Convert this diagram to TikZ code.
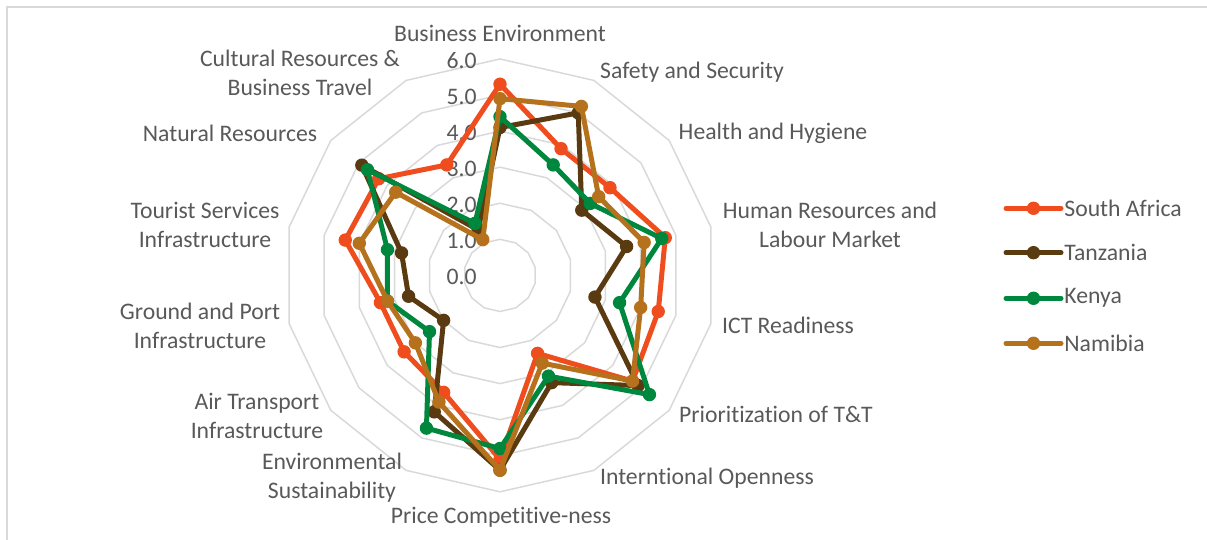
\documentclass[tikz,border=0pt]{standalone}
\usepackage{fontspec}
\setmainfont{Carlito}[Ligatures=NoCommon]
\definecolor{saorange}{RGB}{239,77,30}
\definecolor{tzbrown}{RGB}{90,58,16}
\definecolor{kegreen}{RGB}{0,135,62}
\definecolor{nagold}{RGB}{181,113,27}
\definecolor{gridgray}{RGB}{217,217,217}
\definecolor{textgray}{RGB}{89,89,89}

\begin{document}
\begin{tikzpicture}[x=0.5pt,y=0.5pt,font=\fontsize{11.85}{14.5}\selectfont,
    every node/.style={text=textgray,inner sep=0pt},
    ring/.style={draw=gridgray,line width=0.75pt},
    series/.style={line width=2.5pt,line join=round,line cap=round},
    axislabel/.style={align=center}]
    \useasboundingbox (0,0) rectangle (1207,540);
    \clip (0,0) rectangle (1207,540);
    % chart frame
    \draw[gridgray,line width=0.75pt] (7,-10) -- (7,533) -- (1220,533);
    \begin{scope}[shift={(500,264.6)}]
        % rings
        \foreach \k in {1,...,6}
            \draw[ring] (90:{\k*36.07}) \foreach \i in {1,...,13}{ -- ({90-\i*360/14}:{\k*36.07})} -- cycle;
        % scale values
        \foreach \k in {0,...,6}
            \node[anchor=east] (v\k) at (-23,{\k*36.07-1.5}) {\k.0};
        % countries
        \foreach \nm/\col/\vals in {
            sa/saorange/{5.3,3.9,3.9,4.7,4.5,4.7,2.4,5.1,3.6,3.4,3.4,4.4,4.3,3.4},
            tz/tzbrown/{4.1,5.0,2.9,3.6,2.7,4.9,3.3,5.4,4.2,2.0,2.6,2.8,4.9,1.4},
            ke/kegreen/{4.4,3.4,3.2,4.6,3.4,5.3,3.1,4.8,4.7,2.5,3.2,3.2,4.7,1.6},
            na/nagold/{4.9,5.2,3.5,4.1,4.0,4.7,2.7,5.4,3.9,3.0,3.2,4.0,3.7,1.1}}{
            \foreach \v [count=\i from 0] in \vals
                \coordinate (\nm\i) at ({90-\i*360/14}:{\v*36.07});
            \draw[series,\col] (\nm0) \foreach \i in {1,...,13}{ -- (\nm\i)} -- cycle;
            \foreach \i in {0,...,13}
                \fill[\col] (\nm\i) circle (3.35pt);
        }
    \end{scope}
    % pillar names
    \node[axislabel] (be) at (500,507) {Business Environment};
    \node[axislabel] (ss) at (692,468) {Safety and Security};
    \node[axislabel] (hh) at (773,407) {Health and Hygiene};
    \node[axislabel] (hr) at (830,315) {Human Resources and\\Labour Market};
    \node[axislabel] (ict) at (788,215) {ICT Readiness};
    \node[axislabel] (ptt) at (776,126) {Prioritization of T\&T};
    \node[axislabel] (io) at (707,62) {Interntional Openness};
    \node[axislabel] (pc) at (501,23) {Price Competitive-ness};
    \node[axislabel] (es) at (332,62) {Environmental\\Sustainability};
    \node[axislabel] (at) at (257,124) {Air Transport\\Infrastructure};
    \node[axislabel] (gp) at (200,214.5) {Ground and Port\\Infrastructure};
    \node[axislabel] (ts) at (205,315) {Tourist Services\\Infrastructure};
    \node[axislabel] (nr) at (230,407) {Natural Resources};
    \node[axislabel] (cr) at (300,467.5) {Cultural Resources \&\\Business Travel};
    % legend
    \foreach \key/\nm/\col/\yy in {sa/South Africa/saorange/331.7, tz/Tanzania/tzbrown/287.3,
        ke/Kenya/kegreen/241.7, na/Namibia/nagold/196.7}{
        \coordinate (\key-a) at (1006,\yy);
        \coordinate (\key-b) at (1061,\yy);
        \draw[series,\col] (\key-a) -- (\key-b);
        \fill[\col] (1033.5,\yy) circle (3.35pt);
        \node[anchor=west] (leg-\key) at (1064,\yy) {\nm};
    }
\end{tikzpicture}
\end{document}
